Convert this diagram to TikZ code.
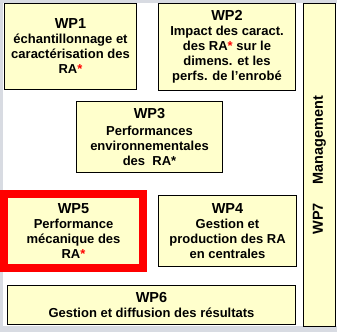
\documentclass[tikz,border=0pt]{standalone}
\usepackage{fontspec}
\setmainfont{Liberation Sans}
\definecolor{wpyellow}{RGB}{255,255,204}
\definecolor{wpframe}{RGB}{216,219,226}
\newcommand{\wptitle}{\fontsize{14.5}{16}\selectfont\bfseries}
\newcommand{\redstar}{{\color{red}*}}
\begin{document}
\begin{tikzpicture}[x=1pt, y=-1pt,
wp/.style={draw=black, fill=wpyellow, line width=1pt, align=center, inner sep=0pt,
  font=\fontsize{13}{15}\selectfont\bfseries},
focus/.style={wp, draw=red, line width=8pt}]

%%%%%%%% FRAME %%%%%%%%%%%%%
\useasboundingbox (0,0) rectangle (337,332);
\fill[wpframe] (0,0) rectangle (337,332);
\fill[white] (3,3) rectangle (337,326);
%%%%%%%%%%%%%%%%%%%%%%%%%%%

\node[wp, minimum width=132, minimum height=86] (wp1) at (70.5,46.5)
  {{\wptitle WP1}\\échantillonnage et\\caractérisation des\\RA\redstar};
\node[wp, minimum width=137, minimum height=87] (wp2) at (227,47)
  {{\wptitle WP2}\\Impact des caract.\\des RA\redstar{} sur le\\dimens. et les\\perfs. de l’enrobé};
\node[wp, minimum width=146, minimum height=71] (wp3) at (149.5,136.5)
  {{\wptitle WP3}\\[2pt]Performances\\environnementales\\des\ \ RA*};
\node[focus, minimum width=139, minimum height=74] (wp5) at (73.5,231)
  {{\wptitle WP5}\\Performance\\mécanique des\\RA\redstar};
\node[wp, minimum width=138, minimum height=71] (wp4) at (227.5,231)
  {{\wptitle WP4}\\Gestion et\\production des RA\\en centrales};
\node[wp, minimum width=288, minimum height=39] (wp6) at (151.5,305)
  {{\wptitle WP6}\\Gestion et diffusion des résultats};
\node[wp, minimum width=32, minimum height=323] (wp7) at (319.5,165) {};
\node[rotate=90, font=\wptitle] (wp7text) at (wp7.center) {WP7\hspace{1.3em}Management};
\end{tikzpicture}
\end{document}
